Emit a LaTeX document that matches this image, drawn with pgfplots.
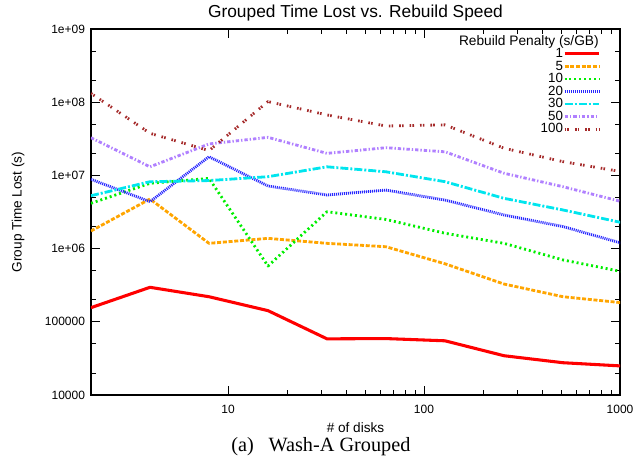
\documentclass[border=0pt]{standalone}
\usepackage{pgfplots}
\pgfplotsset{compat=1.18}
\usepackage{fontspec}
\setmainfont{Liberation Sans}
\newfontfamily\capfont{Liberation Serif}
\definecolor{c1}{HTML}{FF0000}
\definecolor{c5}{HTML}{FFA500}
\definecolor{c10}{HTML}{00EE00}
\definecolor{c20}{HTML}{2828FF}
\definecolor{c30}{HTML}{00E5EE}
\definecolor{c50}{HTML}{B080FF}
\definecolor{c100}{HTML}{A52A2A}
\begin{document}
\begin{tikzpicture}
\begin{loglogaxis}[
  scale only axis,
  width=396.75pt, height=274.5pt,
  xmin=2, xmax=1000, ymin=1e4, ymax=1e9,
  axis line style={line width=0.9pt},
  every tick/.style={black, line width=0.6pt},
  major tick length=6.5pt, minor tick length=3.5pt,
  xtick={10,100,1000}, xticklabels={10,100,1000},
  ytick={1e4,1e5,1e6,1e7,1e8,1e9},
  yticklabels={10000,100000,1e+06,1e+07,1e+08,1e+09},
  minor ytick={2e4,5e4,2e5,5e5,2e6,5e6,2e7,5e7,2e8,5e8},
  tick label style={font=\fontsize{9}{9}\selectfont},
  xticklabel style={yshift=-4pt},
  yticklabel style={xshift=-1pt},
  every axis title shift=0pt,
  title={Grouped Time Lost vs. Rebuild Speed},
  title style={at={(axis description cs:0.5,1)}, anchor=base, inner sep=0pt, yshift=8.8pt, font=\fontsize{13}{13}\selectfont},
  xlabel={\# of disks},
  xlabel style={at={(axis description cs:0.5,0)}, anchor=center, yshift=-24.75pt, font=\fontsize{10.2}{10.2}\selectfont},
  ylabel={Group Time Lost (s)},
  ylabel style={at={(axis description cs:-0.138,0.5)}, anchor=center, rotate=0, font=\fontsize{10.2}{10.2}\selectfont},
  legend style={at={(rel axis cs:0.9716,0.957)}, anchor=north east, draw=none, fill=none,
    font=\fontsize{10}{10}\selectfont,
    nodes={inner sep=0pt, text height=7.4pt, text depth=2pt},
    row sep=0pt, column sep=0pt},
  legend cell align=right,
  legend plot pos=right,
  legend image code/.code={\draw[#1] (6pt,0pt) -- (32pt,0pt);},
  every axis plot/.append style={line width=2.1pt, line join=round},
]
\addplot[c1, line width=2.3pt] coordinates {(2,156000) (4,296000) (8,220000) (16,142000) (32,58500) (64,59000) (128,55000) (256,34400) (512,27600) (1024,24900)};
\addlegendentry{1}
\addplot[c5, dash pattern=on 3pt off 1.3pt] coordinates {(2,1.74e6) (4,4.76e6) (8,1.18e6) (16,1.38e6) (32,1.18e6) (64,1.06e6) (128,6.2e5) (256,3.28e5) (512,2.2e5) (1024,1.82e5)};
\addlegendentry{5}
\addplot[c10, dash pattern=on 1.5pt off 2.2pt] coordinates {(2,4.16e6) (4,7.8e6) (8,9.1e6) (16,5.78e5) (32,3.19e6) (64,2.5e6) (128,1.62e6) (256,1.18e6) (512,7.0e5) (1024,4.84e5)};
\addlegendentry{10}
\addplot[c20, dash pattern=on 0.8pt off 0.7pt] coordinates {(2,8.85e6) (4,4.37e6) (8,1.8e7) (16,7.16e6) (32,5.4e6) (64,6.3e6) (128,4.6e6) (256,2.88e6) (512,2.0e6) (1024,1.18e6)};
\addlegendentry{20}
\addplot[c30, dash pattern=on 6pt off 1.5pt on 1.5pt off 1.5pt] coordinates {(2,5.28e6) (4,8.2e6) (8,8.5e6) (16,9.6e6) (32,1.31e7) (64,1.12e7) (128,8.2e6) (256,4.86e6) (512,3.37e6) (1024,2.26e6)};
\addlegendentry{30}
\addplot[c50, dash pattern=on 2.5pt off 1.5pt on 1pt off 1.5pt] coordinates {(2,3.27e7) (4,1.31e7) (8,2.69e7) (16,3.31e7) (32,2.0e7) (64,2.39e7) (128,2.1e7) (256,1.07e7) (512,7.0e6) (1024,4.37e6)};
\addlegendentry{50}
\addplot[c100, dash pattern=on 1.2pt off 0.9pt on 1.2pt off 4.5pt] coordinates {(2,1.32e8) (4,3.76e7) (8,2.18e7) (16,1.02e8) (32,6.7e7) (64,4.73e7) (128,4.9e7) (256,2.35e7) (512,1.54e7) (1024,1.12e7)};
\addlegendentry{100}
\node[anchor=base east, inner sep=0pt, font=\fontsize{10.3}{10.3}\selectfont] at ([xshift=-15.75pt, yshift=-12.5pt]rel axis cs:1,1) {Rebuild Penalty (s/GB)};
\end{loglogaxis}
\node[font=\capfont\fontsize{15.2}{15.2}\selectfont, anchor=center] at ([xshift=-25.9pt, yshift=-39pt]current axis.south) {(a)\hspace{0.72em}Wash-A Grouped};
\path ([xshift=-68.25pt, yshift=-49.5pt]current axis.south west) rectangle ([xshift=16.5pt, yshift=21.75pt]current axis.north east);
\end{tikzpicture}
\end{document}
